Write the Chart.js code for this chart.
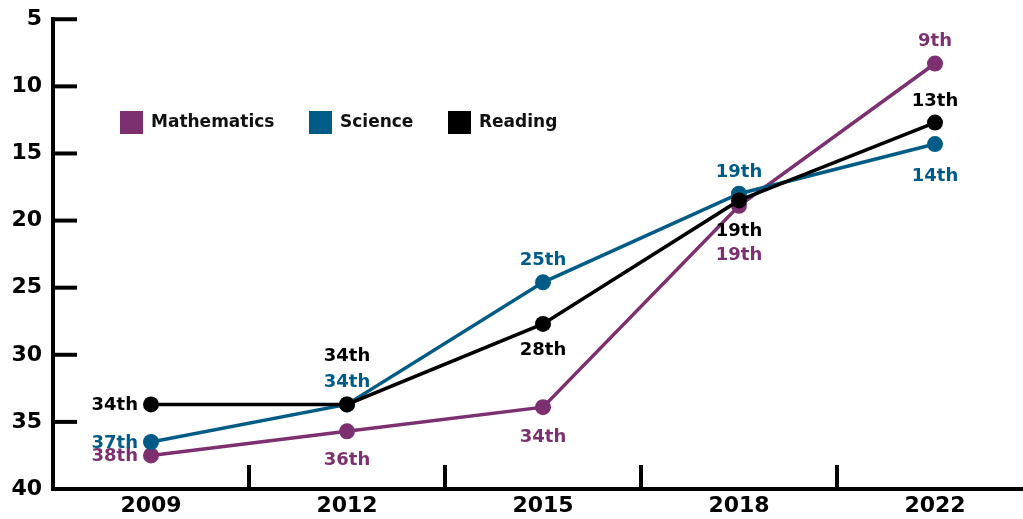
<!DOCTYPE html>
<html>
<head>
<meta charset="utf-8">
<script src="https://cdn.jsdelivr.net/npm/chart.js@4.4.1/dist/chart.umd.min.js"></script>
<style>
  html, body { margin: 0; padding: 0; background: #fff; overflow: hidden; }
  canvas { display: block; }
</style>
</head>
<body>
<canvas id="myChart" width="1041" height="519"></canvas>
<script>
var years = ['2009', '2012', '2015', '2018', '2022'];
// plotted positions (rank)
var mathValues = [37.5, 35.7, 33.9, 18.9, 8.3];
var scienceValues = [36.5, 33.7, 24.6, 18.0, 14.3];
var readingValues = [33.7, 33.7, 27.7, 18.5, 12.7];
// printed rank labels
var mathLabels = ['38th', '36th', '34th', '19th', '9th'];
var scienceLabels = ['37th', '34th', '25th', '19th', '14th'];
var readingLabels = ['34th', '34th', '28th', '19th', '13th'];
var yTicks = [5, 10, 15, 20, 25, 30, 35, 40];

var FONT = '"DejaVu Sans", sans-serif';
var purple = '#7d3070';
var blue = '#005c87';

// draws inward tick marks, point labels and the legend
var extras = {
  id: 'extras',
  afterDatasetsDraw: function(chart) {
    var c = chart.ctx;
    var area = chart.chartArea;
    var xs = chart.scales.x, ys = chart.scales.y;
    c.save();
    c.strokeStyle = '#000';
    c.lineWidth = 4;
    c.lineCap = 'butt';
    // y ticks pointing right
    yTicks.forEach(function(v) {
      var py = ys.getPixelForValue(v);
      if (v === 40) return;
      c.beginPath();
      c.moveTo(area.left, py);
      c.lineTo(area.left + 24, py);
      c.stroke();
    });
    // x ticks between categories, pointing up
    for (var i = 1; i < years.length; i++) {
      var px = (xs.getPixelForValue(i - 1) + xs.getPixelForValue(i)) / 2;
      c.beginPath();
      c.moveTo(px, area.bottom);
      c.lineTo(px, area.bottom - 24);
      c.stroke();
    }
    // point labels
    c.font = 'bold 18px ' + FONT;
    c.textBaseline = 'middle';
    chart.data.datasets.forEach(function(ds, di) {
      var meta = chart.getDatasetMeta(di);
      meta.data.forEach(function(pt, j) {
        var dy = ds.labelDy[j];
        c.fillStyle = ds.borderColor;
        if (dy === null) {
          c.textAlign = 'right';
          c.fillText(ds.rankLabels[j], pt.x - 13, pt.y + 1);
        } else {
          c.textAlign = 'center';
          c.fillText(ds.rankLabels[j], pt.x, pt.y + dy);
        }
      });
    });
    // legend
    var lx = [120, 309, 448];
    c.font = 'bold 17px ' + FONT;
    c.textAlign = 'left';
    chart.data.datasets.forEach(function(ds, k) {
      c.fillStyle = ds.borderColor;
      c.fillRect(lx[k], 111, 23, 23);
      c.fillStyle = '#111';
      c.fillText(ds.label, lx[k] + 31, 123);
    });
    c.restore();
  }
};

var ctx = document.getElementById('myChart').getContext('2d');
var myChart = new Chart(ctx, {
  type: 'line',
  data: {
    labels: years,
    datasets: [{
      label: 'Mathematics',
      data: mathValues,
      rankLabels: mathLabels,
      labelDy: [null, 29, 30, 50, -22],
      borderColor: purple,
      backgroundColor: purple,
      order: 2
    }, {
      label: 'Science',
      data: scienceValues,
      rankLabels: scienceLabels,
      labelDy: [null, -22, -22, -21, 32],
      borderColor: blue,
      backgroundColor: blue,
      order: 1
    }, {
      label: 'Reading',
      data: readingValues,
      rankLabels: readingLabels,
      labelDy: [null, -48, 26, 31, -21],
      borderColor: '#000',
      backgroundColor: '#000',
      order: 0
    }]
  },
  options: {
    responsive: false,
    animation: false,
    layout: { padding: { top: 0, right: 0, bottom: 0, left: 0 } },
    elements: {
      line: { borderWidth: 3.5, tension: 0 },
      point: { radius: 8, hoverRadius: 8, borderWidth: 0 }
    },
    plugins: {
      legend: { display: false },
      tooltip: { enabled: false }
    },
    scales: {
      x: {
        offset: true,
        grid: { display: false, drawTicks: false },
        border: { color: '#000', width: 4 },
        ticks: { color: '#000', font: { family: FONT, size: 22, weight: 'bold' }, padding: 4 },
        afterFit: function(s) { s.height = 30; }
      },
      y: {
        reverse: true,
        min: 5,
        max: 40,
        grid: { display: false, drawTicks: false },
        border: { color: '#000', width: 4 },
        ticks: { stepSize: 5, color: '#000', font: { family: FONT, size: 22, weight: 'bold', lineHeight: 0.75 }, padding: 11 },
        afterFit: function(s) { s.width = 53; }
      }
    }
  },
  plugins: [extras]
});
</script>
</body>
</html>
